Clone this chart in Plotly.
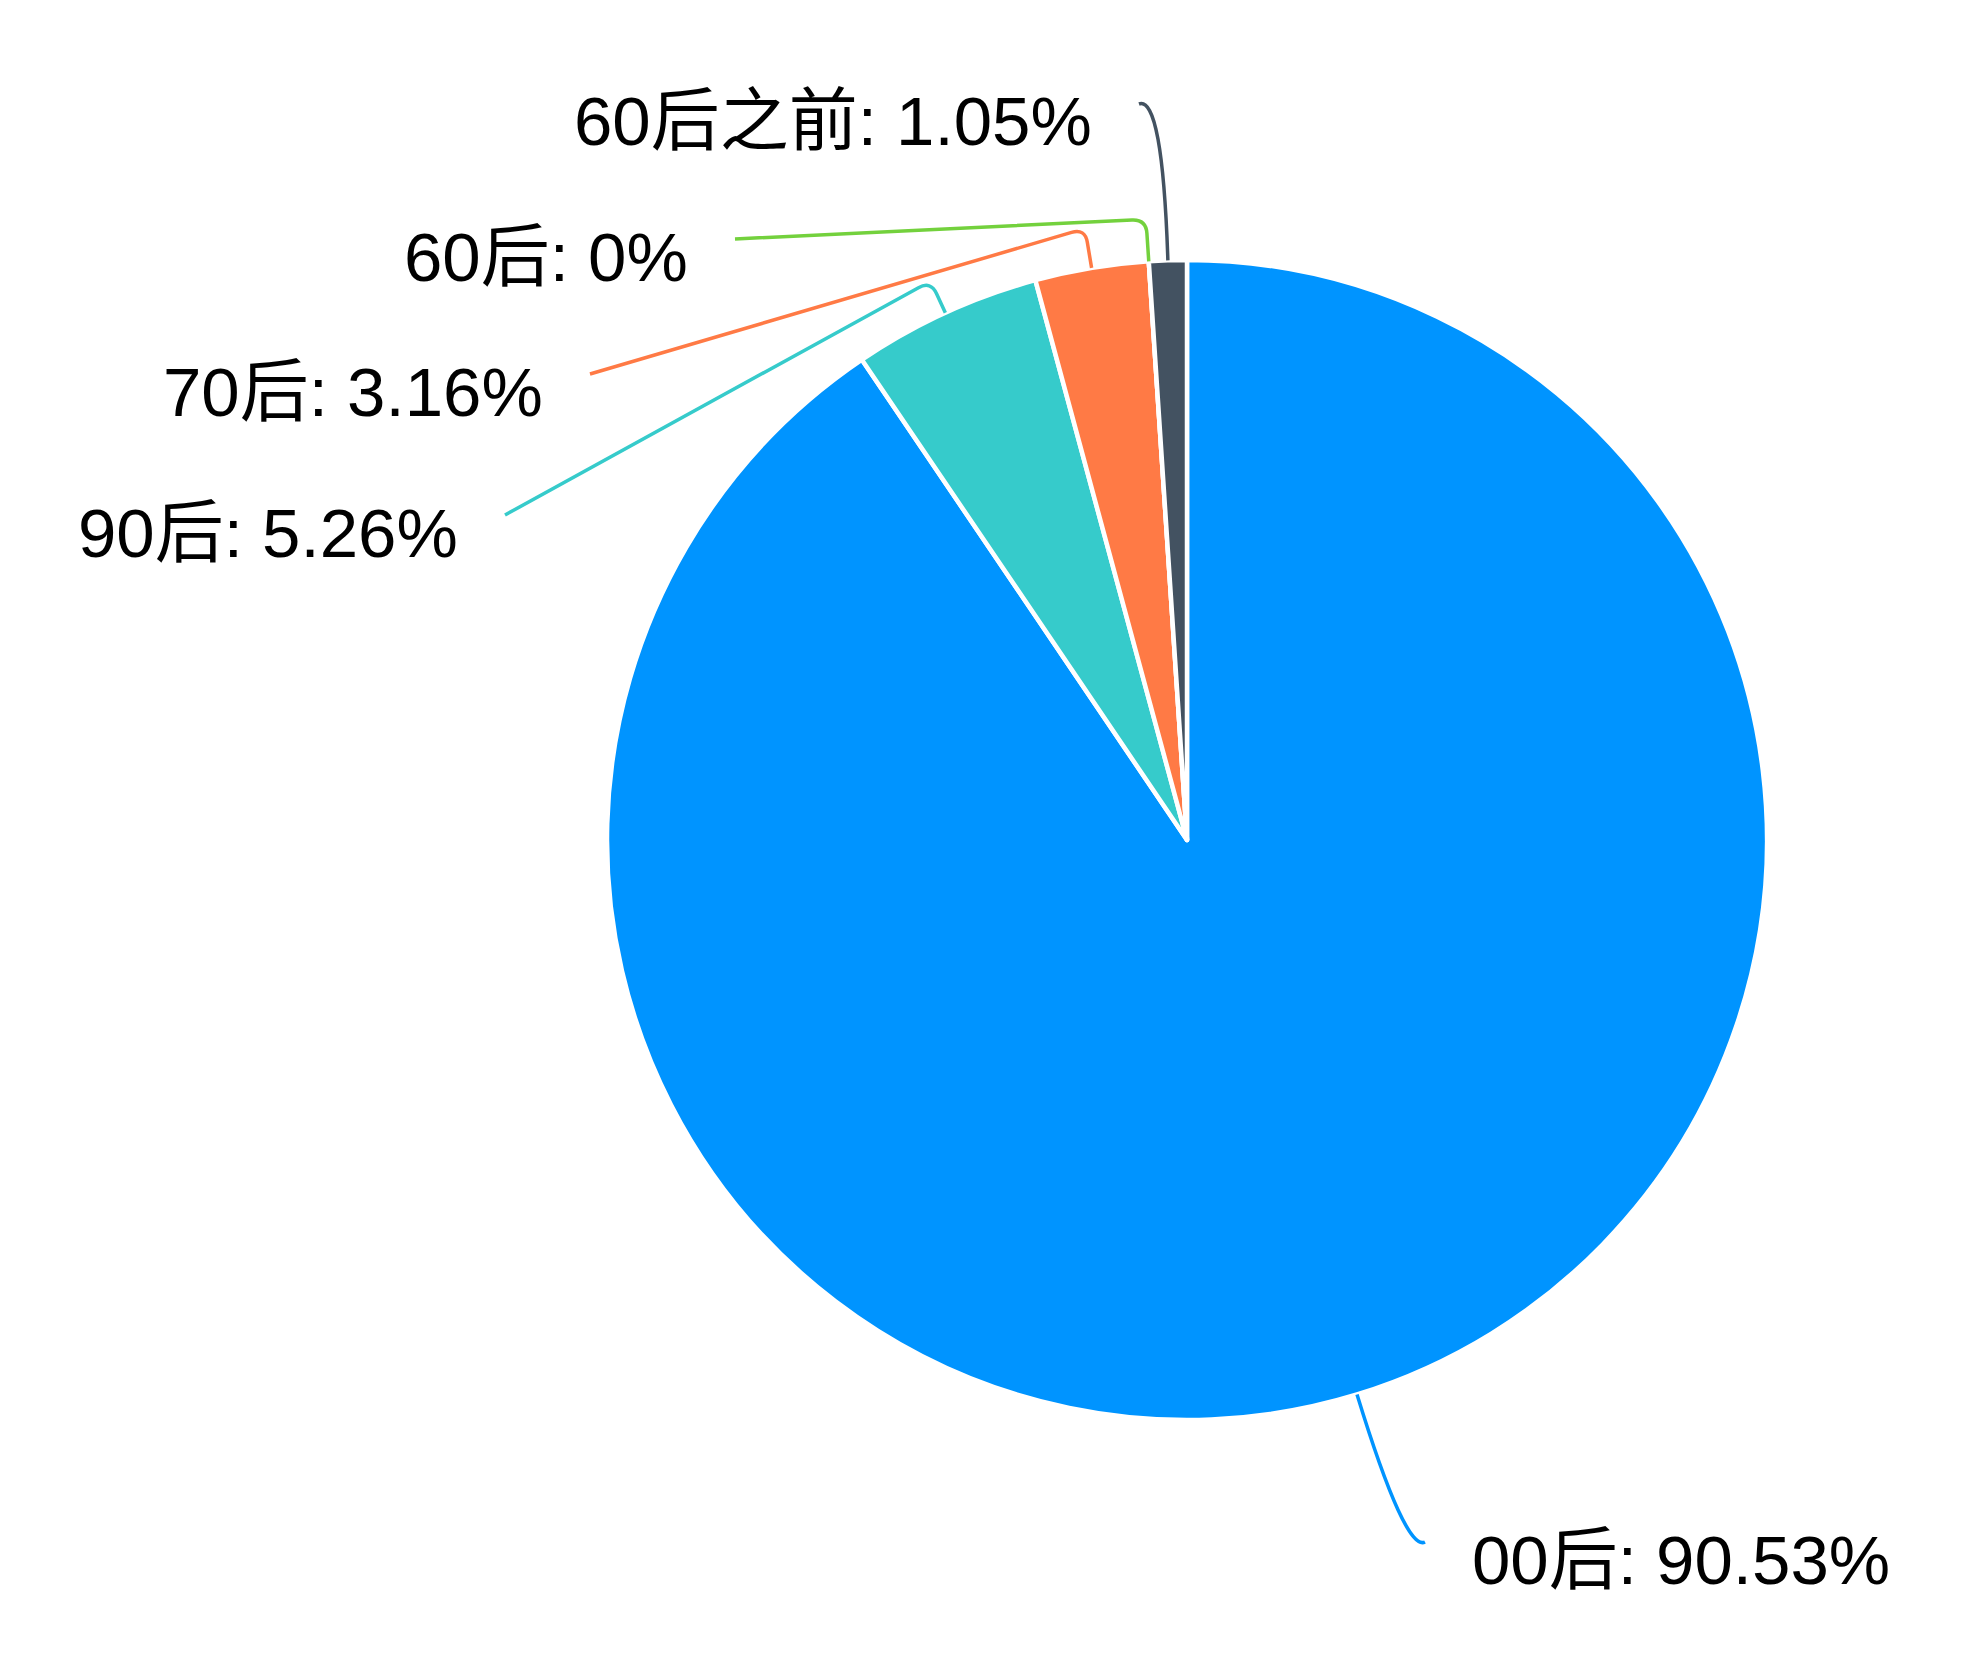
import math
import plotly.graph_objects as go

# data
AGE_GROUPS = ["00后", "90后", "70后", "60后", "60后之前"]
SHARES = [90.53, 5.26, 3.16, 0, 1.05]
COLORS = ["#0094FF", "#36CBCB", "#FF7A45", "#73D13D", "#435261"]

W, H = 1969, 1675
PAGE_PAD = 8                 # default body margin of the html page
CX, CY, R = 1187, 840, 580   # pie centre / radius in pixels (screen)

# label placement: elbow overshoot past the rim, end of leader line (px),
# corner rounding (None = one smooth curve through the elbow)
LABEL_LAYOUT = {
    "00后": (165, (1425, 1542), None),
    "90后": (35, (505, 515), 14),
    "70后": (40, (590, 374), 14),
    "60后": (42, (735, 239), 14),
    "60后之前": (165, (1139, 104), None),
}
TEXT_GAP = 46
TEXT_DROP = 18


def px(x):
    return (x - PAGE_PAD) / W


def py(y):
    return 1 - (y - PAGE_PAD) / H


def pt(p):
    return f"{px(p[0]):.5f},{py(p[1]):.5f}"


def leader_path(p0, p1, p2, rc_max):
    if rc_max is None:
        return f"M {pt(p0)} Q {pt(p1)} {pt(p2)}"
    d01 = math.dist(p0, p1)
    d12 = math.dist(p1, p2)
    rc = min(rc_max, 0.95 * d01, 0.95 * d12)
    a = (p1[0] + (p0[0] - p1[0]) * rc / d01, p1[1] + (p0[1] - p1[1]) * rc / d01)
    b = (p1[0] + (p2[0] - p1[0]) * rc / d12, p1[1] + (p2[1] - p1[1]) * rc / d12)
    return f"M {pt(p0)} L {pt(a)} Q {pt(p1)} {pt(b)} L {pt(p2)}"


fig = go.Figure(go.Pie(
    labels=AGE_GROUPS,
    values=SHARES,
    sort=False,
    direction="clockwise",
    rotation=0,
    textinfo="none",
    hoverinfo="label+percent",
    marker=dict(colors=COLORS, line=dict(color="white", width=4.5)),
    domain=dict(
        x=[px(CX - R), px(CX + R)],
        y=[py(CY + R), py(CY - R)],
    ),
    showlegend=False,
))

total = sum(SHARES)
cum = 0
shapes = []
annotations = []
for name, share, color in zip(AGE_GROUPS, SHARES, COLORS):
    mid = (cum + share / 2) / total * 2 * math.pi
    cum += share
    ext, end, rc = LABEL_LAYOUT[name]
    edge = (CX + R * math.sin(mid), CY - R * math.cos(mid))
    elbow = (CX + (R + ext) * math.sin(mid), CY - (R + ext) * math.cos(mid))
    shapes.append(dict(
        type="path", xref="paper", yref="paper",
        path=leader_path(edge, elbow, end, rc),
        line=dict(color=color, width=3.5),
    ))
    right = end[0] > CX
    annotations.append(dict(
        xref="paper", yref="paper",
        x=px(end[0] + (TEXT_GAP if right else -TEXT_GAP)),
        y=py(end[1] + TEXT_DROP),
        xanchor="left" if right else "right",
        yanchor="middle",
        text=f"{name}: {share:g}%",
        showarrow=False,
        borderpad=0,
        font=dict(size=69, color="#000000"),
    ))

fig.update_layout(
    width=W,
    height=H,
    margin=dict(t=0, b=0, l=0, r=0),
    paper_bgcolor="white",
    plot_bgcolor="white",
    font=dict(family="Liberation Sans, Arial, Noto Sans CJK SC", size=69),
    shapes=shapes,
    annotations=annotations,
)

fig.write_html("out.html")
